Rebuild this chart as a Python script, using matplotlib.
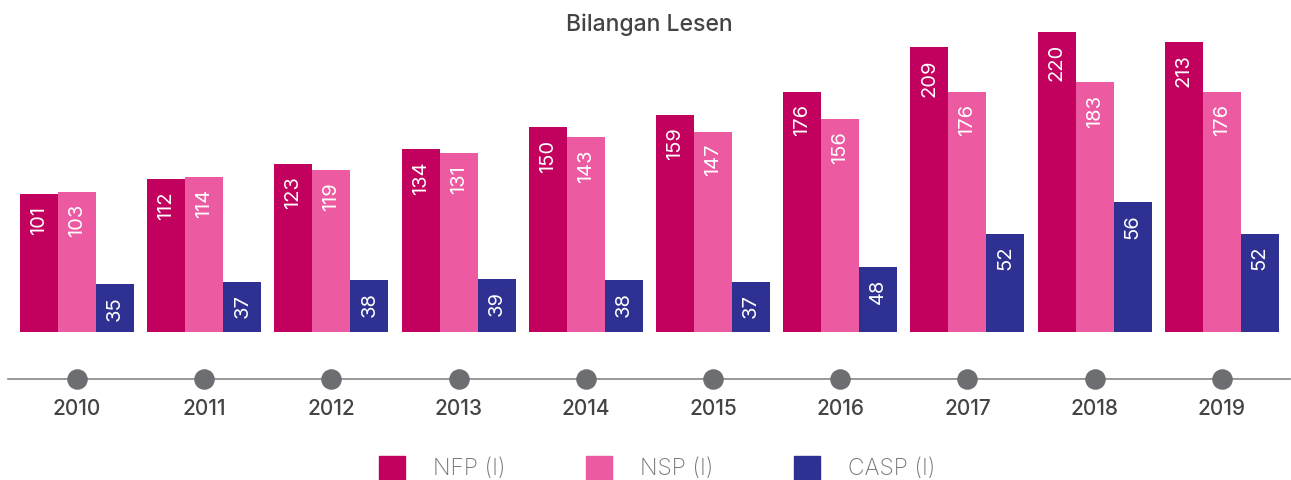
import matplotlib.pyplot as plt
from matplotlib.patches import Rectangle

plt.rcParams['font.family'] = ['Inter', 'DejaVu Sans']

years = ['2010', '2011', '2012', '2013', '2014', '2015', '2016', '2017', '2018', '2019']
nfp = [101, 112, 123, 134, 150, 159, 176, 209, 220, 213]
nsp = [103, 114, 119, 131, 143, 147, 156, 176, 183, 176]
# CASP bars as drawn in the original (last three bars are taller than their labels)
casp = [35, 37, 38, 39, 38, 37, 48, 72, 95, 72]
casp_labels = [35, 37, 38, 39, 38, 37, 48, 52, 56, 52]
series_names = ['NFP (I)', 'NSP (I)', 'CASP (I)']
colors = ['#C2005D', '#EC5BA1', '#2E3192']

W, H = 1291, 481
fig = plt.figure(figsize=(W / 100, H / 100), dpi=100)

# bar area: baseline at pixel 333 from top
step = 127.2
ax = fig.add_axes([0, (H - 333) / H, 1, 333 / H])
ax.set_xlim(-77 / step, (W - 77) / step)
ax.set_ylim(0, 333 / (300 / 220))
ax.axis('off')

bw = 38 / step
x = list(range(len(years)))
for k, (vals, labs) in enumerate(zip([nfp, nsp, casp], [nfp, nsp, casp_labels])):
    xs = [i + (k - 1) * bw for i in x]
    ax.bar(xs, vals, width=bw, color=colors[k], linewidth=0)
    for xi, v, lab in zip(xs, vals, labs):
        ax.annotate(str(lab), (xi, v), xytext=(0, -8), textcoords='offset points',
                    rotation=90, ha='center', va='top', color='white', fontsize=14.5)

fig.text(649 / W, 1 - 25 / H, 'Bilangan Lesen', ha='center', va='center',
         fontsize=16.5, color='#444444', fontweight='medium')

# timeline
ax2 = fig.add_axes([0, 0, 1, (H - 333) / H], sharex=ax)
ax2.set_ylim(0, H - 333)
ax2.axis('off')
ax2.axhline(H - 380, xmin=8 / W, xmax=1290 / W, color='#888888', lw=1.2, zorder=1)
ax2.scatter(x, [H - 380] * len(x), s=190, color='#6D6E71', zorder=2)
for i, y in zip(x, years):
    ax2.text(i, H - 409, y, ha='center', va='center', fontsize=15, color='#444444',
             fontweight='medium')

# legend
leg_x = [379, 586, 794]
for lx, name, c in zip(leg_x, series_names, colors):
    fig.patches.append(Rectangle((lx / W, 0), 26 / W, 24 / H,
                                 transform=fig.transFigure, color=c))
    fig.text((lx + 54) / W, 1 - 469 / H, name, ha='left', va='center',
             fontsize=16.5, color='#777777', fontweight='light')

fig.savefig('out.png', dpi=100)
